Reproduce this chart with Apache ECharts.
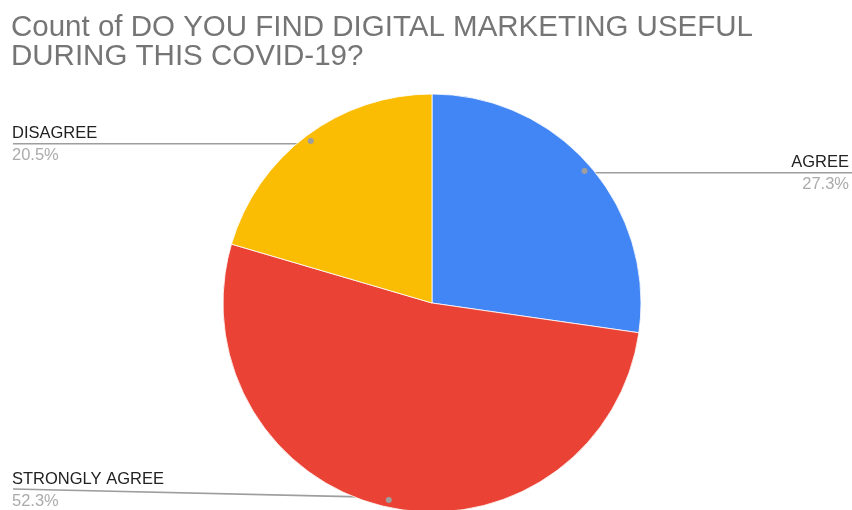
<!DOCTYPE html>
<html>
<head>
<meta charset="utf-8">
<script src="https://cdn.jsdelivr.net/npm/echarts@6/dist/echarts.min.js"></script>
<style>
  html, body { margin: 0; padding: 0; background: #fff; }
  #chart { width: 852px; height: 510px; }
</style>
</head>
<body>
<div id="chart"></div>
<script>
// Survey answers and their counts
const categories = ['AGREE', 'STRONGLY AGREE', 'DISAGREE'];
const counts = [12, 23, 9];
const sliceColors = ['#4285F4', '#EA4335', '#FBBC04'];
const chartTitle = 'Count of DO YOU FIND DIGITAL MARKETING USEFUL\nDURING THIS COVID-19?';

const W = 852, H = 510;
const CX = 432, CY = 303, R = 209;
const ANCHOR_R = 199;     // where the leader lines start, inside each slice
const EDGE_LEFT = 12, EDGE_RIGHT = 849;
const NAME_LH = 20, PCT_LH = 24;
const FONT = '"Liberation Sans", Arial, sans-serif';

const total = counts.reduce((a, b) => a + b, 0);
const pct = v => (Math.round(v / total * 1000) / 10).toFixed(1) + '%';

const pieData = categories.map((name, i) => ({
  name: name,
  value: counts[i],
  itemStyle: { color: sliceColors[i] }
}));

const chart = echarts.init(document.getElementById('chart'), null, { renderer: 'canvas' });

chart.setOption({
  backgroundColor: '#ffffff',
  animation: false,
  title: {
    text: chartTitle,
    left: 11,
    top: 13,
    padding: 0,
    textStyle: {
      fontFamily: FONT,
      fontSize: 29.5,
      lineHeight: 29.5,
      fontWeight: 'normal',
      color: '#757575'
    }
  },
  series: [
    {
      type: 'pie',
      center: [CX, CY],
      radius: [0, R],
      startAngle: 90,
      clockwise: true,
      avoidLabelOverlap: false,
      silent: true,
      itemStyle: { borderColor: '#ffffff', borderWidth: 0.8 },
      data: pieData,
      label: {
        show: true,
        position: 'outside',
        formatter: p => '{n|' + p.name + '}\n{p|' + pct(p.value) + '}',
        rich: {
          n: { fontFamily: FONT, fontSize: 16.5, lineHeight: NAME_LH, color: '#222222' },
          p: { fontFamily: FONT, fontSize: 16.5, lineHeight: PCT_LH, color: '#ababab' }
        }
      },
      labelLine: {
        show: true,
        length: 5,
        length2: 5,
        lineStyle: { color: '#9e9e9e', width: 1.6 }
      },
      labelLayout: function (params) {
        const p0 = params.labelLinePoints[0];
        const k = ANCHOR_R / R;
        const ax = CX + (p0[0] - CX) * k;
        const ay = CY + (p0[1] - CY) * k;
        const left = ax < CX;
        const lineY = Math.min(ay, H - 21);
        const edgeX = left ? EDGE_LEFT + 1 : W;
        const bendX = ax + (left ? -40 : 40);
        return {
          x: left ? EDGE_LEFT : EDGE_RIGHT,
          y: lineY - NAME_LH,
          align: left ? 'left' : 'right',
          verticalAlign: 'top',
          labelLinePoints: [[ax, ay], [bendX, ay + (lineY - ay) * 0.1], [edgeX, lineY]]
        };
      }
    },
    {
      // small markers at the start of every leader line
      type: 'pie',
      center: [CX, CY],
      radius: [ANCHOR_R - 10, ANCHOR_R + 10],
      startAngle: 90,
      clockwise: true,
      silent: true,
      z: 3,
      itemStyle: { color: 'rgba(0,0,0,0)', borderWidth: 0 },
      emphasis: { disabled: true },
      data: pieData.map(d => ({ name: d.name, value: d.value })),
      label: {
        show: true,
        position: 'inside',
        formatter: '●',
        fontFamily: 'DejaVu Sans',
        fontSize: 8,
        color: '#9e9e9e'
      },
      labelLine: { show: false }
    }
  ]
});
</script>
</body>
</html>
